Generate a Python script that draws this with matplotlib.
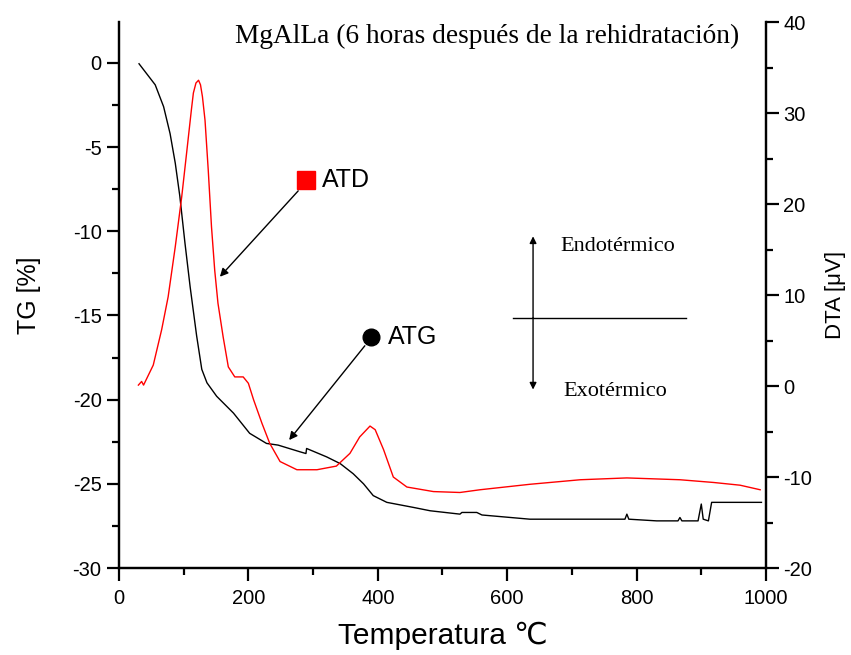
import matplotlib
matplotlib.use('Agg')
import matplotlib.pyplot as plt

plt.rcParams['font.family'] = ['Liberation Sans', 'DejaVu Sans']
plt.rcParams['axes.unicode_minus'] = False

# TG curve (left axis), temperature in °C, mass loss in %
tg_temp = [31, 38, 56, 69, 79, 87, 94, 102, 110, 120, 128, 136, 151, 177, 202, 228,
           246, 280, 289, 290, 321, 342, 362, 378, 393, 414, 455, 481, 527, 530, 553,
           561, 635, 682, 743, 782, 785, 788, 831, 864, 867, 870, 895, 900, 903, 911,
           916, 993]
tg_val = [-0.05, -0.4, -1.3, -2.6, -4.2, -5.95, -7.9, -10.7, -13.3, -16.2, -18.2,
          -19.0, -19.8, -20.8, -22.0, -22.6, -22.7, -23.1, -23.2, -22.9, -23.4, -23.8,
          -24.4, -25.0, -25.7, -26.1, -26.4, -26.6, -26.8, -26.7, -26.7, -26.85, -27.1,
          -27.1, -27.1, -27.1, -26.8, -27.1, -27.2, -27.2, -27.0, -27.2, -27.2, -26.2,
          -27.1, -27.2, -26.1, -26.1]

# DTA curve (right axis), microvolts
dta_temp = [30, 35, 38, 53, 66, 76, 87, 97, 105, 112, 115, 119, 123, 126, 129, 133,
            138, 143, 148, 153, 161, 169, 179, 192, 200, 208, 221, 233, 249, 275, 306,
            336, 357, 372, 388, 396, 409, 424, 445, 486, 527, 558, 635, 713, 785, 867,
            919, 960, 991]
dta_val = [0.1, 0.5, 0.1, 2.3, 6.2, 9.8, 15.3, 20.8, 25.9, 30.4, 32.2, 33.3, 33.6,
           33.1, 31.8, 29.2, 23.7, 17.5, 12.7, 9.1, 5.4, 2.1, 1.0, 1.0, 0.3, -1.5,
           -4.1, -6.3, -8.3, -9.2, -9.2, -8.8, -7.4, -5.6, -4.4, -4.8, -7.0, -10.0,
           -11.1, -11.6, -11.7, -11.4, -10.8, -10.3, -10.1, -10.3, -10.6, -10.9, -11.4]

fig = plt.figure(figsize=(8.51, 6.55), dpi=100)
ax = fig.add_axes([0.1398, 0.1328, 0.7603, 0.8336])
ax2 = ax.twinx()

ax.plot(tg_temp, tg_val, color='black', lw=1)
ax2.plot(dta_temp, dta_val, color='red', lw=1)

ax.set_xlim(0, 1000)
ax.set_ylim(-30, 2.43)
ax2.set_ylim(-20, 40)

ax.set_xticks(range(0, 1001, 200))
ax.set_xticks(range(0, 1001, 100), minor=True)
ax.set_yticks([-30, -25, -20, -15, -10, -5, 0])
ax.set_yticks([-30 + 2.5 * i for i in range(13)], minor=True)
ax2.set_yticks(range(-20, 41, 10))
ax2.set_yticks(range(-20, 41, 5), minor=True)

for a in (ax, ax2):
    a.spines['top'].set_visible(False)
    for s in a.spines.values():
        s.set_linewidth(1.6)
    a.tick_params(which='major', direction='out', length=9, width=1.6, labelsize=14.5)
    a.tick_params(which='minor', direction='out', length=5, width=1.6)
ax.tick_params(axis='y', which='both', right=False)
ax.tick_params(axis='x', pad=6)

ax.set_ylabel('TG [%]', fontsize=18, labelpad=23)
ax2.set_ylabel('DTA [μV]', fontsize=16, labelpad=9)
ax.set_xlabel('Temperatura ℃', fontsize=21.5, labelpad=10)

ax.text(179, 1.6, 'MgAlLa (6 horas después de la rehidratación)',
        family='Liberation Serif', fontsize=19.7, va='center', ha='left')

# ATD label
ax.plot([289], [-6.94], marker='s', color='red', ms=13, ls='none')
ax.text(314, -6.94, 'ATD', fontsize=18, va='center', ha='left')
ax.annotate('', xy=(156, -12.7), xytext=(277, -7.6),
            arrowprops=dict(arrowstyle='-|>', color='black', lw=1,
                            mutation_scale=12, shrinkA=0, shrinkB=0))

# ATG label
ax.plot([389], [-16.26], marker='o', color='black', ms=12, ls='none')
ax.text(415, -16.26, 'ATG', fontsize=18, va='center', ha='left')
ax.annotate('', xy=(263, -22.4), xytext=(380, -16.8),
            arrowprops=dict(arrowstyle='-|>', color='black', lw=1,
                            mutation_scale=12, shrinkA=0, shrinkB=0))

# Endo / Exo indicator
ax.annotate('', xy=(640, -10.3), xytext=(640, -15.13),
            arrowprops=dict(arrowstyle='-|>', color='black', lw=1,
                            mutation_scale=10, shrinkA=0, shrinkB=0))
ax.annotate('', xy=(640, -19.4), xytext=(640, -15.13),
            arrowprops=dict(arrowstyle='-|>', color='black', lw=1,
                            mutation_scale=10, shrinkA=0, shrinkB=0))
ax.plot([609, 876], [-15.13, -15.13], color='black', lw=1)
ax.text(682, -10.9, 'Endotérmico', family='Liberation Serif', fontsize=16,
        va='center', ha='left')
ax.text(687, -19.5, 'Exotérmico', family='Liberation Serif', fontsize=16,
        va='center', ha='left')

fig.savefig('out.png', dpi=100)
